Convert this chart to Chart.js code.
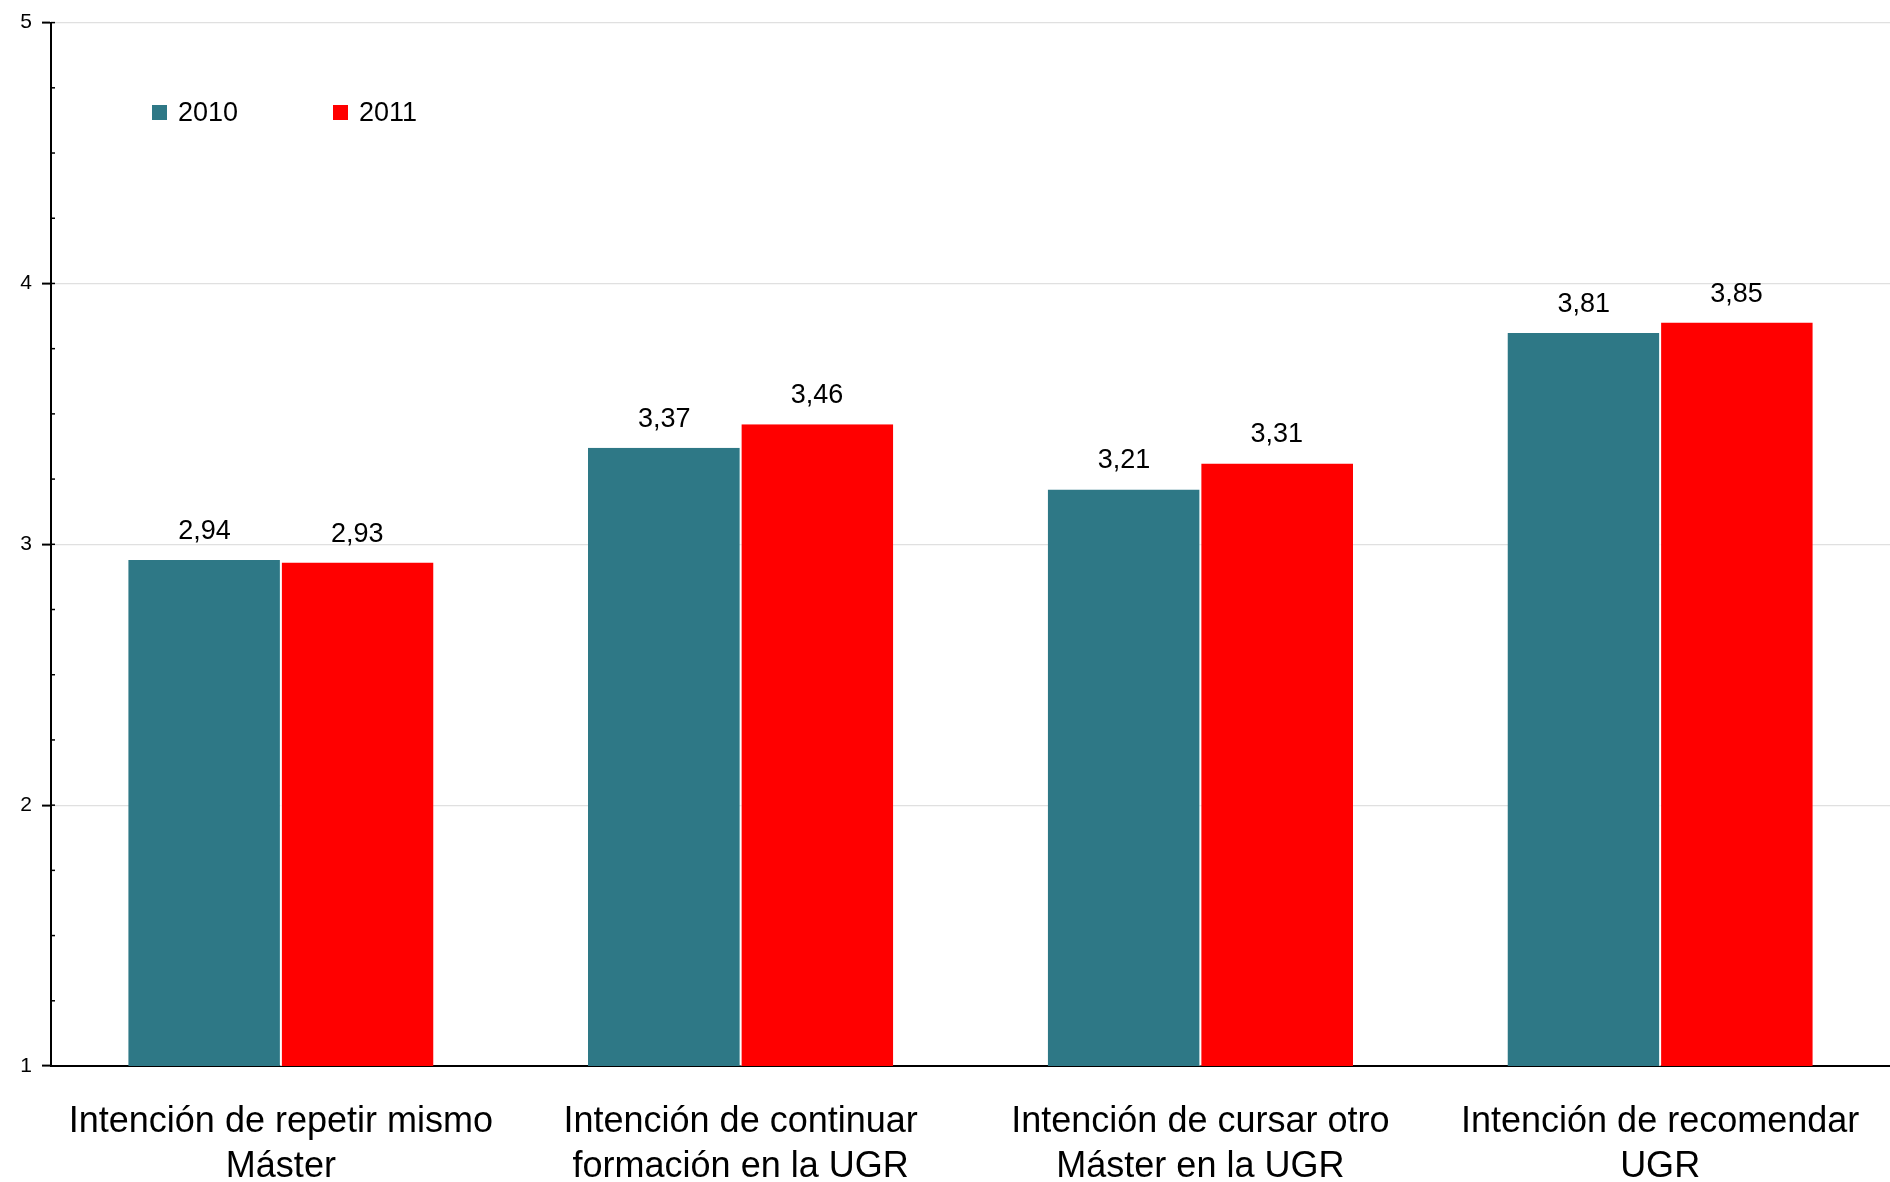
<!DOCTYPE html>
<html lang="es">
<head>
    <meta charset="UTF-8">
    <title>Intención de repetir / continuar / recomendar</title>
    <script src="https://cdn.jsdelivr.net/npm/chart.js@4"></script>
    <style>
        html, body { margin: 0; padding: 0; background: #fff; }
        #chartBox { width: 1890px; height: 1182px; }
    </style>
</head>
<body>
    <div id="chartBox"><canvas id="barChart" width="1890" height="1182"></canvas></div>
    <script>
        const categories = [
            ["Intención de repetir mismo", "Máster"],
            ["Intención de continuar", "formación en la UGR"],
            ["Intención de cursar otro", "Máster en la UGR"],
            ["Intención de recomendar", "UGR"]
        ];
        const seriesNames = ["2010", "2011"];
        const values2010 = [2.94, 3.37, 3.21, 3.81];
        const values2011 = [2.93, 3.46, 3.31, 3.85];
        const seriesColors = ["#2e7886", "#ff0000"];

        const FONT = "'Liberation Sans', Arial, sans-serif";

        function fmt(v) {
            return v.toFixed(2).replace('.', ',');
        }

        // values written above each bar
        const valueLabels = {
            id: 'valueLabels',
            afterDatasetsDraw(chart) {
                const ctx = chart.ctx;
                ctx.save();
                ctx.font = '27px ' + FONT;
                ctx.fillStyle = '#000';
                ctx.textAlign = 'center';
                ctx.textBaseline = 'bottom';
                chart.data.datasets.forEach((ds, i) => {
                    chart.getDatasetMeta(i).data.forEach((bar, j) => {
                        ctx.fillText(fmt(ds.data[j]), bar.x, bar.y - 15);
                    });
                });
                ctx.restore();
            }
        };

        // small tick marks pointing into the plot
        const innerTicks = {
            id: 'innerTicks',
            afterDraw(chart) {
                const y = chart.scales.y;
                const ctx = chart.ctx;
                ctx.save();
                ctx.strokeStyle = '#000';
                ctx.lineWidth = 1.5;
                y.ticks.forEach(t => {
                    const py = y.getPixelForValue(t.value);
                    ctx.beginPath();
                    ctx.moveTo(y.right, py);
                    ctx.lineTo(y.right + 4, py);
                    ctx.stroke();
                });
                ctx.restore();
            }
        };

        // legend sitting inside the plot, top left
        const insideLegend = {
            id: 'insideLegend',
            afterDraw(chart) {
                const ctx = chart.ctx;
                const startX = [152, 333];
                ctx.save();
                ctx.font = '27px ' + FONT;
                ctx.textBaseline = 'middle';
                ctx.textAlign = 'left';
                chart.data.datasets.forEach((ds, i) => {
                    ctx.fillStyle = ds.backgroundColor;
                    ctx.fillRect(startX[i], 105, 15, 15);
                    ctx.fillStyle = '#000';
                    ctx.fillText(ds.label, startX[i] + 26, 114);
                });
                ctx.restore();
            }
        };

        const ctx = document.getElementById('barChart').getContext('2d');
        new Chart(ctx, {
            type: 'bar',
            data: {
                labels: categories,
                datasets: [
                    {
                        label: seriesNames[0],
                        data: values2010,
                        backgroundColor: seriesColors[0],
                        borderColor: '#ffffff',
                        borderWidth: { top: 0, left: 0, right: 1, bottom: 0 },
                        borderSkipped: false
                    },
                    {
                        label: seriesNames[1],
                        data: values2011,
                        backgroundColor: seriesColors[1],
                        borderColor: '#ffffff',
                        borderWidth: { top: 0, left: 1, right: 0, bottom: 0 },
                        borderSkipped: false
                    }
                ]
            },
            options: {
                responsive: false,
                devicePixelRatio: 1,
                animation: false,
                categoryPercentage: 0.664,
                barPercentage: 1.0,
                layout: { padding: { top: 22, right: -4, left: 0, bottom: 0 } },
                plugins: {
                    legend: { display: false },
                    tooltip: { enabled: false }
                },
                scales: {
                    x: {
                        grid: { display: false, drawTicks: false },
                        border: { color: '#000', width: 2 },
                        ticks: {
                            color: '#000',
                            font: { family: FONT, size: 36, lineHeight: 1.24 },
                            padding: 34,
                            maxRotation: 0,
                            autoSkip: false
                        },
                        afterFit(scale) {
                            scale.height = 116;
                            scale.paddingLeft = 0;
                            scale.paddingRight = 0;
                        }
                    },
                    y: {
                        min: 1,
                        max: 5,
                        border: { color: '#000', width: 2 },
                        grid: {
                            color: c => (Number.isInteger(c.tick.value) && c.tick.value > 1) ? '#e0e0e0' : 'rgba(0,0,0,0)',
                            tickColor: c => Number.isInteger(c.tick.value) ? '#000' : 'rgba(0,0,0,0)',
                            tickLength: 9,
                            lineWidth: 1.2,
                            tickWidth: 2
                        },
                        ticks: {
                            stepSize: 0.25,
                            color: '#000',
                            font: { family: FONT, size: 21 },
                            padding: 10,
                            callback: v => Number.isInteger(v) ? String(v) : ''
                        },
                        afterFit(scale) { scale.width = 51; }
                    }
                }
            },
            plugins: [valueLabels, innerTicks, insideLegend]
        });
    </script>
</body>
</html>
